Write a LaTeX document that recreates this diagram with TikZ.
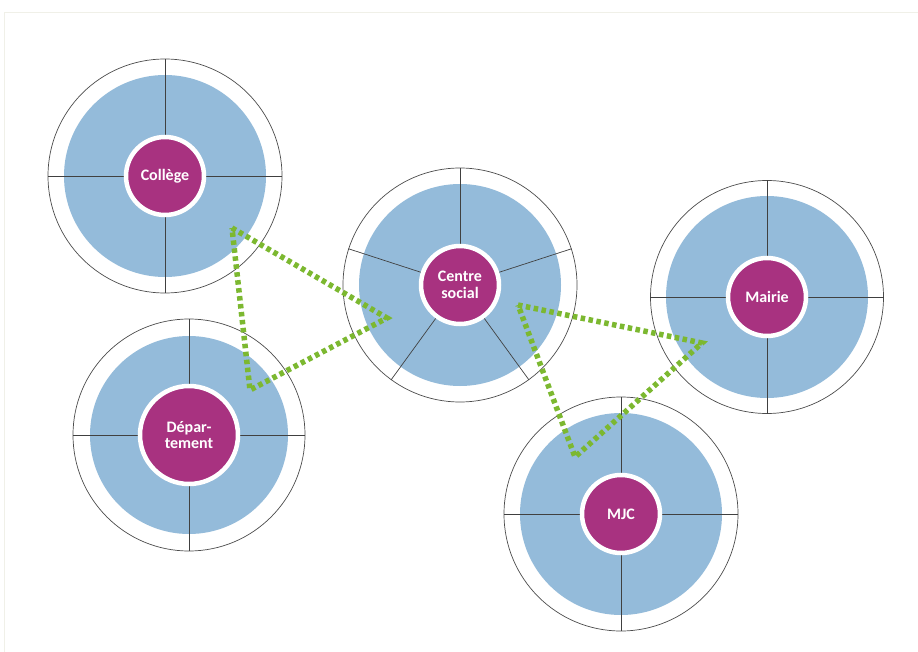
\documentclass[tikz,border=0pt]{standalone}
\usepackage{fontspec}
\setmainfont{Carlito}
\usepackage{tikz}
\usetikzlibrary{positioning, calc}

\definecolor{hubpurple}{RGB}{168,50,128}
\definecolor{diskblue}{RGB}{148,187,218}
\definecolor{linkgreen}{RGB}{124,184,48}
\definecolor{framegray}{RGB}{240,240,232}

\begin{document}
\begin{tikzpicture}[x=1pt, y=-1pt,
    ring/.style={shape=circle, draw=black!70, line width=0.7pt, fill=white, inner sep=0pt, minimum size=#1},
    disk/.style={shape=circle, fill=diskblue, inner sep=0pt, minimum size=#1},
    spoke/.style={draw=black!75, line width=0.7pt},
    hub/.style={shape=circle, fill=hubpurple, draw=white, line width=4.5pt, inner sep=0pt, minimum size=#1,
                text=white, font=\fontsize{16}{16.5}\selectfont\bfseries, align=center},
    link/.style={draw=linkgreen, line width=5.5pt, dash pattern=on 4.5pt off 3.5pt}]
    \useasboundingbox (0,0) rectangle (918,652);
    \draw[framegray, line width=0.8pt] (4,652) -- (4,12) -- (918,12);

    \node[ring=234pt] (colR) at (165,176) {};
    \node[disk=202pt] (colD) at (165,176) {};
    \foreach \a in {0,90,180,270}
        \path[spoke] (colR.center) -- (colR.\a);
    \node[hub=78pt] (col) at (165,176) {Collège};

    \node[ring=232pt] (depR) at (189,435) {};
    \node[disk=198pt] (depD) at (189,435) {};
    \foreach \a in {0,90,180,270}
        \path[spoke] (depR.center) -- (depR.\a);
    \node[hub=98pt] (dep) at (189,435) {Dépar-\\tement};

    \node[ring=234pt] (cenR) at (460,285) {};
    \node[disk=202pt] (cenD) at (460,285) {};
    \foreach \a in {18,90,162,234,306}
        \path[spoke] (cenR.center) -- (cenR.\a);
    \node[hub=78pt] (cen) at (460,285) {Centre\\social};

    \node[ring=233pt] (maiR) at (767,297) {};
    \node[disk=202pt] (maiD) at (767,297) {};
    \foreach \a in {0,90,180,270}
        \path[spoke] (maiR.center) -- (maiR.\a);
    \node[hub=78pt] (mai) at (767,297) {Mairie};

    \node[ring=234pt] (mjcR) at (621,514) {};
    \node[disk=202pt] (mjcD) at (621,514) {};
    \foreach \a in {0,90,180,270}
        \path[spoke] (mjcR.center) -- (mjcR.\a);
    \node[hub=78pt] (mjc) at (621,514) {MJC};

    % green triangles
    \coordinate (t1) at (232,228);
    \coordinate (t2) at (387,318);
    \coordinate (t3) at (250,390);
    \path[link] (t1) -- (t2) -- (t3) -- cycle;

    \coordinate (u1) at (518,305);
    \coordinate (u2) at (702,343);
    \coordinate (u3) at (575,457);
    \path[link] (u1) -- (u2) -- (u3) -- cycle;
\end{tikzpicture}
\end{document}
